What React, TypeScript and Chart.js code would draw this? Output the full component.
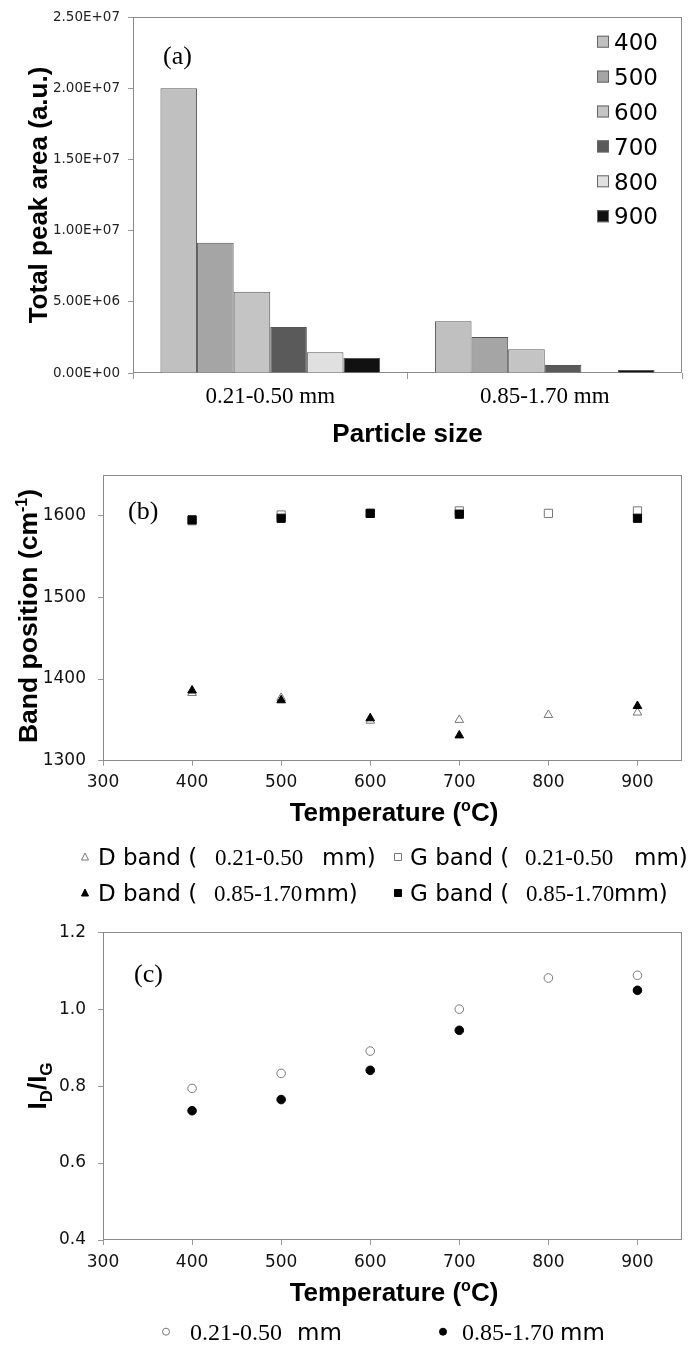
import React, { useEffect, useRef } from 'react';
import { Chart, registerables } from 'chart.js';

Chart.register(...registerables);

// ---------- data ----------
const SIZES = ['0.21-0.50 mm', '0.85-1.70 mm'];
const BAR_TEMPS = ['400', '500', '600', '700', '800', '900'];
const AREA_400 = [2.0e7, 3.64e6];
const AREA_500 = [9.14e6, 2.53e6];
const AREA_600 = [5.7e6, 1.67e6];
const AREA_700 = [3.23e6, 5.6e5];
const AREA_800 = [1.46e6, null];
const AREA_900 = [1.05e6, 2.1e5];
const BAR_COLORS = ['#c0c0c0', '#a5a5a5', '#c4c4c4', '#5a5a5a', '#e0e0e0', '#111111'];

const TEMPS = [400, 500, 600, 700, 800, 900];
const D_SMALL = [1383, 1377, 1349, 1350, 1356, 1359];
const D_LARGE = [1386, 1374, 1352, 1331, null, 1367];
const G_SMALL = [1594, 1601, 1603, 1606, 1603, 1606];
const G_LARGE = [1595, 1597, 1603, 1602, null, 1597];

const RATIO_SMALL = [0.794, 0.833, 0.891, 1.0, 1.081, 1.088];
const RATIO_LARGE = [0.736, 0.765, 0.841, 0.945, null, 1.049];

// ---------- fonts ----------
const SANS = "'Liberation Sans', Arial, sans-serif";
const DJ = "'DejaVu Sans', sans-serif";
const SERIF = "'Liberation Serif', 'Times New Roman', serif";
const FRAME = '#8a8a8a';

type Run = { t: string; size: number; bold?: boolean; family?: string; dy?: number };
const fontOf = (r: Run) => `${r.bold ? 'bold ' : ''}${r.size}px ${r.family || SANS}`;

function drawRich(ctx: CanvasRenderingContext2D, runs: Run[], cx: number, cy: number, rot = 0) {
  ctx.save();
  ctx.translate(cx, cy);
  if (rot) ctx.rotate(rot);
  ctx.textBaseline = 'alphabetic';
  ctx.textAlign = 'left';
  ctx.fillStyle = '#000';
  let total = 0;
  let maxSize = 0;
  const widths = runs.map((r) => {
    ctx.font = fontOf(r);
    const w = ctx.measureText(r.t).width;
    total += w;
    maxSize = Math.max(maxSize, r.size);
    return w;
  });
  let x = -total / 2;
  const base = maxSize * 0.358;
  runs.forEach((r, i) => {
    ctx.font = fontOf(r);
    ctx.fillText(r.t, x, base + (r.dy || 0));
    x += widths[i];
  });
  ctx.restore();
}

function textAt(ctx: CanvasRenderingContext2D, t: string, font: string, x: number, cy: number, size: number) {
  ctx.save();
  ctx.font = font;
  ctx.fillStyle = '#000';
  ctx.textAlign = 'left';
  ctx.textBaseline = 'alphabetic';
  ctx.fillText(t, x, cy + size * 0.36);
  ctx.restore();
}

function frame(chart: any) {
  const { ctx, chartArea: a } = chart;
  ctx.save();
  ctx.strokeStyle = FRAME;
  ctx.lineWidth = 1;
  ctx.strokeRect(Math.round(a.left) + 0.5, Math.round(a.top) + 0.5, Math.round(a.right - a.left) - 1, Math.round(a.bottom - a.top) - 1);
  ctx.restore();
}

function marker(ctx: CanvasRenderingContext2D, kind: string, x: number, y: number, filled: boolean) {
  ctx.save();
  ctx.fillStyle = filled ? '#000' : '#fff';
  ctx.strokeStyle = filled ? '#000' : '#777';
  ctx.lineWidth = 1;
  ctx.beginPath();
  if (kind === 'tri') {
    ctx.moveTo(x, y - 4);
    ctx.lineTo(x + 3.5, y + 3);
    ctx.lineTo(x - 3.5, y + 3);
    ctx.closePath();
  } else if (kind === 'sq') {
    ctx.rect(x - 3.5, y - 3.5, 7, 7);
  } else {
    ctx.arc(x, y, 3.5, 0, Math.PI * 2);
  }
  ctx.fill();
  ctx.stroke();
  ctx.restore();
}

function sci(v: number) {
  if (v === 0) return '0.00E+00';
  const e = Math.floor(Math.log10(Math.abs(v)) + 1e-9);
  const m = v / Math.pow(10, e);
  return `${m.toFixed(2)}E${e < 0 ? '-' : '+'}${String(Math.abs(e)).padStart(2, '0')}`;
}

const pts = (arr: (number | null)[]) =>
  TEMPS.map((t, i) => ({ x: t, y: arr[i] })).filter((p) => p.y !== null);

const tempTitle: Run[] = [
  { t: 'Temperature (', size: 26, bold: true },
  { t: 'o', size: 16, bold: true, dy: -10 },
  { t: 'C)', size: 26, bold: true },
];

// ---------- configs ----------
function cfgA(): any {
  const series = [AREA_400, AREA_500, AREA_600, AREA_700, AREA_800, AREA_900];
  return {
    type: 'bar',
    data: {
      labels: SIZES,
      datasets: series.map((d, i) => ({
        label: BAR_TEMPS[i],
        data: d,
        backgroundColor: BAR_COLORS[i],
        borderColor: '#555',
        borderWidth: 1,
        barPercentage: 1,
        categoryPercentage: 0.8,
      })),
    },
    options: {
      responsive: false,
      animation: false,
      devicePixelRatio: 1,
      layout: { padding: { top: 17, right: 7, left: 0, bottom: 0 } },
      plugins: { legend: { display: false }, tooltip: { enabled: false } },
      scales: {
        x: {
          offset: true,
          grid: { display: true, drawOnChartArea: false, tickLength: 6, color: '#999', offset: true },
          border: { display: false },
          ticks: { font: { family: SERIF, size: 23 }, color: '#000', padding: 4, maxRotation: 0 },
          afterFit: (s: any) => { s.height = 77; },
        },
        y: {
          min: 0,
          max: 2.5e7,
          grid: { drawOnChartArea: false, tickLength: 5, color: '#999' },
          border: { display: false },
          ticks: { stepSize: 5e6, callback: (v: number) => sci(v), font: { family: DJ, size: 13.5 }, color: '#222', padding: 8 },
          afterFit: (s: any) => { s.width = 133; },
        },
      },
    },
    plugins: [
      {
        id: 'decorA',
        beforeDatasetsDraw: (chart: any) => frame(chart),
        afterDraw: (chart: any) => {
          const ctx = chart.ctx;
          drawRich(ctx, [{ t: 'Total peak area (a.u.)', size: 26, bold: true }], 38, 195, -Math.PI / 2);
          drawRich(ctx, [{ t: 'Particle size', size: 26, bold: true }], 407.5, 432.5);
          textAt(ctx, '(a)', `26px ${SERIF}`, 163, 55, 26);
          chart.data.datasets.forEach((ds: any, i: number) => {
            const cy = 41.7 + 34.9 * i;
            ctx.save();
            ctx.fillStyle = ds.backgroundColor;
            ctx.strokeStyle = '#666';
            ctx.lineWidth = 1;
            ctx.fillRect(597, cy - 6, 12, 12);
            ctx.strokeRect(597.5, cy - 5.5, 11, 11);
            ctx.restore();
            textAt(ctx, ds.label, `23px ${DJ}`, 614, cy, 23);
          });
        },
      },
    ],
  };
}

function scatterScales(ymin: number, ymax: number, ystep: number, yfmt: (v: number) => string, xH: number) {
  return {
    x: {
      type: 'linear',
      min: 300,
      max: 950,
      grid: { drawOnChartArea: false, tickLength: 5, color: '#999' },
      border: { display: false },
      ticks: { stepSize: 100, includeBounds: false, autoSkip: false, maxRotation: 0, font: { family: DJ, size: 17 }, color: '#111', padding: 7 },
      afterBuildTicks: (s: any) => { s.ticks = s.ticks.filter((t: any) => t.value % 100 === 0); },
      afterFit: (s: any) => { s.height = xH; },
    },
    y: {
      type: 'linear',
      min: ymin,
      max: ymax,
      grid: { drawOnChartArea: false, tickLength: 5, color: '#999' },
      border: { display: false },
      ticks: { stepSize: ystep, includeBounds: false, callback: (v: number) => yfmt(v), font: { family: DJ, size: 17 }, color: '#111', padding: 12 },
      afterBuildTicks: (s: any) => {
        s.ticks = s.ticks.filter((t: any) => Math.abs(Math.round((t.value - ymin) / ystep) * ystep + ymin - t.value) < 1e-6);
      },
      afterFit: (s: any) => { s.width = 103; },
    },
  };
}

function cfgB(): any {
  const open = { backgroundColor: '#fff', borderColor: '#777', borderWidth: 1, order: 1 };
  const fill = { backgroundColor: '#000', borderColor: '#000', borderWidth: 1, order: 0 };
  return {
    type: 'scatter',
    data: {
      datasets: [
        { label: 'D band (0.21-0.50 mm)', data: pts(D_SMALL), pointStyle: 'triangle', pointRadius: 5, ...open },
        { label: 'G band (0.21-0.50 mm)', data: pts(G_SMALL), pointStyle: 'rect', pointRadius: 5.8, ...open },
        { label: 'D band (0.85-1.70 mm)', data: pts(D_LARGE), pointStyle: 'triangle', pointRadius: 5, ...fill },
        { label: 'G band (0.85-1.70 mm)', data: pts(G_LARGE), pointStyle: 'rect', pointRadius: 5.8, ...fill },
      ],
    },
    options: {
      responsive: false,
      animation: false,
      devicePixelRatio: 1,
      layout: { padding: { top: 25, right: 7, left: 0, bottom: 0 } },
      plugins: { legend: { display: false }, tooltip: { enabled: false } },
      scales: scatterScales(1300, 1650, 100, (v) => String(v), 149.3),
    },
    plugins: [
      {
        id: 'decorB',
        beforeDatasetsDraw: (chart: any) => frame(chart),
        afterDraw: (chart: any) => {
          const ctx = chart.ctx;
          drawRich(ctx, [
            { t: 'Band position (cm', size: 26.5, bold: true },
            { t: '-1', size: 16, bold: true, dy: -10 },
            { t: ')', size: 26.5, bold: true },
          ], 28, 166, -Math.PI / 2);
          drawRich(ctx, tempTitle, 394, 361.7);
          textAt(ctx, '(b)', `26px ${SERIF}`, 128, 60, 26);
          const r1 = 407, r2 = 443;
          const sf = `23px ${DJ}`;
          const rf = `23px ${SERIF}`;
          marker(ctx, 'tri', 85, r1, false);
          textAt(ctx, 'D band (', sf, 98, r1, 23);
          textAt(ctx, '0.21-0.50', rf, 215, r1, 23);
          textAt(ctx, 'mm)', sf, 322, r1, 23);
          marker(ctx, 'sq', 398, r1, false);
          textAt(ctx, 'G band (', sf, 410, r1, 23);
          textAt(ctx, '0.21-0.50', rf, 525, r1, 23);
          textAt(ctx, 'mm)', sf, 634, r1, 23);
          marker(ctx, 'tri', 85, r2, true);
          textAt(ctx, 'D band (', sf, 98, r2, 23);
          textAt(ctx, '0.85-1.70', rf, 214, r2, 23);
          textAt(ctx, 'mm)', sf, 304, r2, 23);
          marker(ctx, 'sq', 398, r2, true);
          textAt(ctx, 'G band (', sf, 410, r2, 23);
          textAt(ctx, '0.85-1.70', rf, 526, r2, 23);
          textAt(ctx, 'mm)', sf, 614, r2, 23);
        },
      },
    ],
  };
}

function cfgC(): any {
  return {
    type: 'scatter',
    data: {
      datasets: [
        { label: '0.21-0.50 mm', data: pts(RATIO_SMALL), pointStyle: 'circle', pointRadius: 4.3, backgroundColor: '#fff', borderColor: '#777', borderWidth: 1, order: 1 },
        { label: '0.85-1.70 mm', data: pts(RATIO_LARGE), pointStyle: 'circle', pointRadius: 4.3, backgroundColor: '#000', borderColor: '#000', borderWidth: 1, order: 0 },
      ],
    },
    options: {
      responsive: false,
      animation: false,
      devicePixelRatio: 1,
      layout: { padding: { top: 22, right: 7, left: 0, bottom: 0 } },
      plugins: { legend: { display: false }, tooltip: { enabled: false } },
      scales: scatterScales(0.4, 1.2, 0.2, (v) => v.toFixed(1), 109),
    },
    plugins: [
      {
        id: 'decorC',
        beforeDatasetsDraw: (chart: any) => frame(chart),
        afterDraw: (chart: any) => {
          const ctx = chart.ctx;
          drawRich(ctx, [
            { t: 'I', size: 26, bold: true },
            { t: 'D', size: 17, bold: true, dy: 6 },
            { t: '/I', size: 26, bold: true },
            { t: 'G', size: 17, bold: true, dy: 6 },
          ], 37, 176, -Math.PI / 2);
          drawRich(ctx, tempTitle, 394, 381.7);
          textAt(ctx, '(c)', `26px ${SERIF}`, 134, 63, 26);
          const y = 421.7;
          marker(ctx, 'circ', 166, y, false);
          textAt(ctx, '0.21-0.50', `24px ${SERIF}`, 190, y, 24);
          textAt(ctx, 'mm', `23px ${DJ}`, 297, y, 23);
          marker(ctx, 'circ', 443, y, true);
          textAt(ctx, '0.85-1.70', `24px ${SERIF}`, 462, y, 24);
          textAt(ctx, 'mm', `23px ${DJ}`, 560, y, 23);
        },
      },
    ],
  };
}

export default function App() {
  const aRef = useRef<HTMLCanvasElement>(null);
  const bRef = useRef<HTMLCanvasElement>(null);
  const cRef = useRef<HTMLCanvasElement>(null);

  useEffect(() => {
    const charts = [
      new Chart(aRef.current as HTMLCanvasElement, cfgA()),
      new Chart(bRef.current as HTMLCanvasElement, cfgB()),
      new Chart(cRef.current as HTMLCanvasElement, cfgC()),
    ];
    return () => charts.forEach((c) => c.destroy());
  }, []);

  const cs = (top: number, h: number): React.CSSProperties => ({ position: 'absolute', left: 0, top, width: 689, height: h, display: 'block' });

  return (
    <div style={{ position: 'absolute', left: 0, top: 0, width: 689, height: 1349, background: '#fff' }}>
      <canvas ref={aRef} width={689} height={450} style={cs(0, 450)} />
      <canvas ref={bRef} width={689} height={460} style={cs(450, 460)} />
      <canvas ref={cRef} width={689} height={439} style={cs(910, 439)} />
    </div>
  );
}
